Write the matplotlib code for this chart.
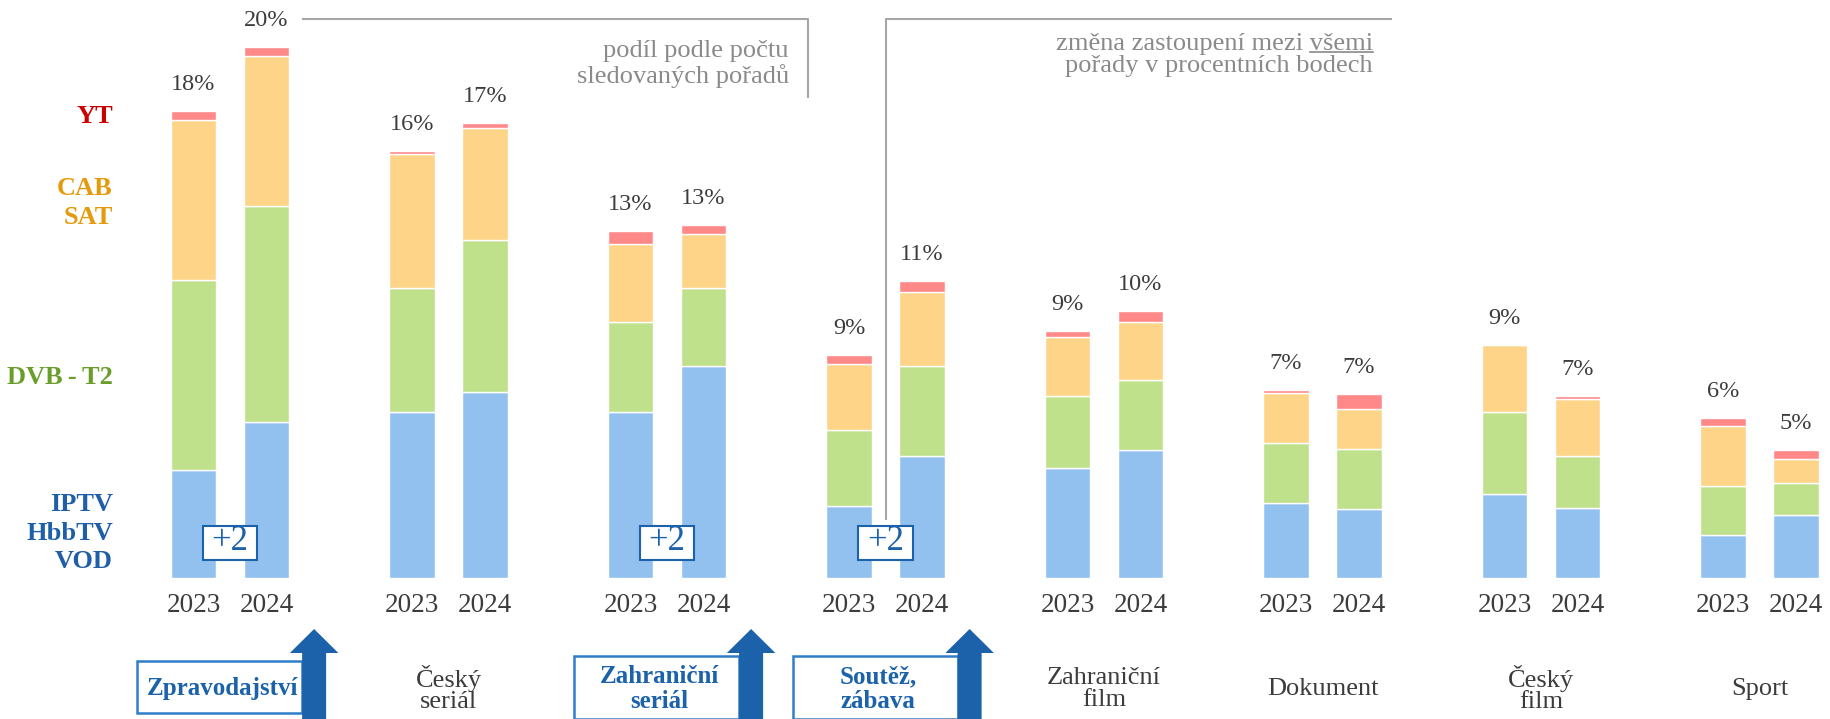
import numpy as np
import matplotlib.pyplot as plt
from matplotlib.patches import Rectangle, FancyArrow

# Podíl podle počtu sledovaných pořadů (v %), podle způsobu příjmu
kategorie = ['Zpravodajství', 'Český\nseriál', 'Zahraniční\nseriál', 'Soutěž,\nzábava',
             'Zahraniční\nfilm', 'Dokument', 'Český\nfilm', 'Sport']
zvyraznit = [True, False, True, True, False, False, False, False]
roky = ['2023', '2024']

iptv_2023 = [4.09, 6.30, 6.30, 2.74, 4.17, 2.83, 3.20, 1.61]
dvb_2023 = [7.20, 4.70, 3.41, 2.87, 2.74, 2.27, 3.09, 1.89]
cab_2023 = [6.06, 5.06, 2.94, 2.50, 2.21, 1.89, 2.54, 2.27]
yt_2023 = [0.35, 0.13, 0.50, 0.35, 0.25, 0.13, 0.00, 0.28]

iptv_2024 = [5.92, 7.06, 8.03, 4.63, 4.85, 2.60, 2.67, 2.37]
dvb_2024 = [8.17, 5.76, 2.97, 3.41, 2.65, 2.27, 1.97, 1.23]
cab_2024 = [5.68, 4.24, 2.03, 2.80, 2.21, 1.52, 2.14, 0.89]
yt_2024 = [0.35, 0.19, 0.34, 0.41, 0.42, 0.58, 0.13, 0.37]

popisky_2023 = ['18%', '16%', '13%', '9%', '9%', '7%', '9%', '6%']
popisky_2024 = ['20%', '17%', '13%', '11%', '10%', '7%', '7%', '5%']
zmena = ['+2', '', '+2', '+2', '', '', '', '']

barvy = {'iptv': '#92C1EF', 'dvb': '#BFE18C', 'cab': '#FDD488', 'yt': '#FF8888'}
barvy_text = {'iptv': '#1F5FA8', 'dvb': '#6A9E2A', 'cab': '#E49A0A', 'yt': '#CC0000'}
modra = '#1C62AA'
modra_ram = '#2F7DC8'
seda = '#A6A6A6'
seda_text = '#8A8A8A'
tmava = '#3C3C3C'

plt.rcParams['font.family'] = ['Liberation Serif', 'DejaVu Serif']

# převod pixelů (referenční obrázek) na data
PX_X = 218.5   # px na jednu kategorii
PX_Y = 26.4    # px na jeden procentní bod
X0, Y0 = 230.0, 578.0
W, H = 1830, 719


def xd(px):
    return (px - X0) / PX_X


def yd(py):
    return (Y0 - py) / PX_Y


fig = plt.figure(figsize=(W / 100, H / 100), dpi=100)
ax = fig.add_axes([0, 0, 1, 1])
ax.set_xlim(xd(0), xd(W))
ax.set_ylim(yd(H), yd(0))
ax.axis('off')

x = np.arange(len(kategorie))
posun = 0.167
sirka = 0.21

for rok, dx, vrstvy, popisky in [
        ('2023', -posun, [iptv_2023, dvb_2023, cab_2023, yt_2023], popisky_2023),
        ('2024', posun, [iptv_2024, dvb_2024, cab_2024, yt_2024], popisky_2024)]:
    spodek = np.zeros(len(kategorie))
    for hodnoty, klic in zip(vrstvy, ['iptv', 'dvb', 'cab', 'yt']):
        ax.bar(x + dx, hodnoty, width=sirka, bottom=spodek, color=barvy[klic],
               edgecolor='white', linewidth=1.0, zorder=2)
        spodek = spodek + np.array(hodnoty)
    for i in range(len(kategorie)):
        ax.text(x[i] + dx, spodek[i] + 1.0, popisky[i], ha='center', va='center',
                fontsize=17.5, color=tmava)
        ax.text(x[i] + dx, yd(605), rok, ha='center', va='center',
                fontsize=19.5, color=tmava)

# +2 rámečky a popisky kategorií
for i, kat in enumerate(kategorie):
    if zmena[i]:
        ax.add_patch(Rectangle((x[i] - 0.125, yd(560)), 0.25, 34.3 / PX_Y,
                               facecolor='white', edgecolor=modra, linewidth=1.5, zorder=4))
        ax.text(x[i], yd(542), zmena[i], ha='center', va='center', fontsize=25,
                color=modra, zorder=5)
    if zvyraznit[i]:
        dvouradek = '\n' in kat
        horni = yd(656) if dvouradek else yd(661)
        dolni = yd(719) if dvouradek else yd(713)
        levy = x[i] - 0.425
        pravy = x[i] + 0.385 - 12 / PX_X
        ax.add_patch(Rectangle((levy, dolni), pravy - levy, horni - dolni,
                               facecolor='white', edgecolor=modra_ram, linewidth=1.8, zorder=4))
        ax.add_patch(FancyArrow(x[i] + 0.385, yd(H + 5), 0, yd(629) - yd(H + 5),
                                width=24 / PX_X, head_width=48.5 / PX_X,
                                head_length=24 / PX_Y, length_includes_head=True,
                                color=modra, linewidth=0, zorder=6))
        ax.text(x[i] - 0.035, yd(689), kat, ha='center', va='center', fontsize=18,
                fontweight='bold', color=modra, linespacing=1.1, zorder=5)
    else:
        ax.text(x[i], yd(689), kat, ha='center', va='center', fontsize=19,
                color=tmava, linespacing=1.0)

# legenda vlevo
xl = xd(113)
ax.text(xl, yd(117), 'YT', ha='right', va='center', fontsize=19,
        fontweight='bold', color=barvy_text['yt'])
ax.text(xl, yd(203), 'CAB\nSAT', ha='right', va='center', fontsize=19,
        fontweight='bold', color=barvy_text['cab'], linespacing=1.3)
ax.text(xl, yd(377), 'DVB\u2009-\u2009T2', ha='right', va='center', fontsize=19,
        fontweight='bold', color=barvy_text['dvb'])
ax.text(xl, yd(533), 'IPTV\nHbbTV\nVOD', ha='right', va='center', fontsize=19,
        fontweight='bold', color=barvy_text['iptv'], linespacing=1.3)

# šedé poznámky nahoře
ax.plot([xd(302), xd(808), xd(808)], [yd(19), yd(19), yd(98)], color=seda,
        linewidth=1.5, solid_capstyle='butt', zorder=1)
ax.plot([xd(886), xd(886), xd(1392)], [yd(520), yd(19), yd(19)], color=seda,
        linewidth=1.5, solid_capstyle='butt', zorder=1)
ax.text(xd(789), yd(64), 'podíl podle počtu\nsledovaných pořadů', ha='right', va='center',
        fontsize=19, color=seda_text, linespacing=1.1)
ax.text(xd(1373), yd(55), 'změna zastoupení mezi všemi\npořady v procentních bodech',
        ha='right', va='center', fontsize=19, color=seda_text, linespacing=1.0)

# podtržení slova "všemi"
fig.canvas.draw()
r = fig.canvas.get_renderer()
t = ax.text(0, 0, 'všemi', fontsize=19)
sirka_slova = t.get_window_extent(r).width
t.remove()
ax.plot([xd(1373 - sirka_slova), xd(1373)], [yd(52), yd(52)], color=seda_text, linewidth=1.2)

fig.savefig('out.png', dpi=100)
